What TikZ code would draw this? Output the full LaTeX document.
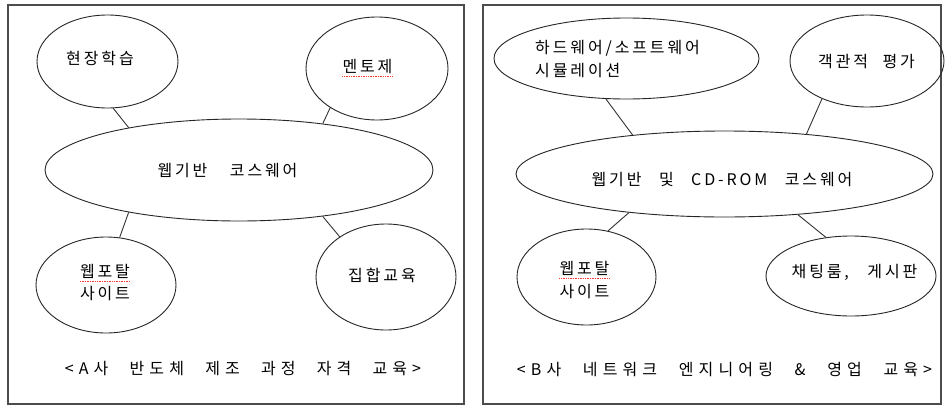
\documentclass[tikz,border=0pt]{standalone}
\usepackage{fontspec}
\setmainfont{Noto Sans CJK KR}
\newfontfamily\krA[LetterSpace=18]{Noto Sans CJK KR}
\newfontfamily\krC[LetterSpace=32]{Noto Sans CJK KR}
\newcommand\wgap[1]{\hspace{#1}}
\usetikzlibrary{shapes.geometric}
\tikzset{
  bub/.style={draw=black!85, line width=0.9pt, ellipse, inner sep=0pt},
  lbl/.style={font=\krA\fontsize{16}{20}\selectfont, inner sep=0pt, text=black},
  captxt/.style={font=\krC\fontsize{16}{20}\selectfont, inner sep=0pt, text=black},
  panel/.style={draw=black!70, line width=1.4pt},
  link/.style={draw=black!80, line width=0.9pt},
  spell/.style={draw=red!80, line width=0.7pt, densely dotted}
}
\begin{document}
\begin{tikzpicture}[x=1pt,y=-1pt]
\useasboundingbox (0,0) rectangle (946,407);
\fill[white] (0,0) rectangle (946,407);
% panels
\draw[panel] (8,5) rectangle (464,404);
\draw[panel] (483,5) rectangle (941,404);

% ---------- left panel ----------
\node[bub, minimum width=141pt, minimum height=93pt] (hj) at (107.5,61.5) {};
\node[bub, minimum width=142pt, minimum height=103pt] (mt) at (377,68.5) {};
\node[bub, minimum width=388pt, minimum height=102pt] (wa) at (239,170) {};
\node[bub, minimum width=140pt, minimum height=96pt] (wpA) at (106,285) {};
\node[bub, minimum width=140pt, minimum height=106pt] (jh) at (386,277) {};

\node[lbl] (thj) at (100,58.5) {현장학습};
\node[lbl] (tmt) at (367.5,66.5) {멘토제};
\node[lbl] (twa) at (227.5,170.5) {웹기반\wgap{16pt} 코스웨어};
\node[lbl] (twpA1) at (105,271.5) {웹포탈};
\node[lbl] (twpA2) at (105,293.5) {사이트};
\node[lbl] (tjh) at (382,275) {집합교육};
\node[captxt] (capA) at (243,369) {<A사\wgap{12.5pt} 반도체\wgap{12.5pt} 제조\wgap{12.5pt} 과정\wgap{12.5pt} 자격\wgap{12.5pt} 교육>};

\draw[spell] ([yshift=-2pt]tmt.south west) -- ([yshift=-2pt]tmt.south east);
\draw[spell] ([yshift=-2pt]twpA1.south west) -- ([yshift=-2pt]twpA1.south east);

\draw[link] (hj.-83.5) -- (wa.159.6);
\draw[link] (mt.220.6) -- (wa.29.8);
\draw[link] (wpA.74.8) -- (wa.201.5);
\draw[link] (jh.139.4) -- (wa.-29.5);

% ---------- right panel ----------
\node[bub, minimum width=265pt, minimum height=81pt] (hw) at (626.5,58.5) {};
\node[bub, minimum width=154pt, minimum height=92pt] (gg) at (867,61) {};
\node[bub, minimum width=417pt, minimum height=86pt] (wb) at (724.5,174) {};
\node[bub, minimum width=139pt, minimum height=96pt] (wpB) at (586.5,277) {};
\node[bub, minimum width=170pt, minimum height=80pt] (ch) at (851,276) {};

\node[lbl, anchor=west] (thw1) at (535,48.5) {하드웨어/소프트웨어};
\node[lbl, anchor=west] (thw2) at (535,70.5) {시뮬레이션};
\node[lbl] (tgg) at (866.5,61.5) {객관적\wgap{8pt} 평가};
\node[lbl] (twb) at (722,180) {웹기반\wgap{11pt} 및\wgap{11pt} CD-ROM\wgap{11pt} 코스웨어};
\node[lbl] (twpB1) at (584.5,268.5) {웹포탈};
\node[lbl] (twpB2) at (584.5,291.5) {사이트};
\node[lbl] (tch) at (854.5,272.5) {채팅룸,\wgap{12pt} 게시판};
\node[captxt] (capB) at (724.5,370) {<B사\wgap{13pt} 네트워크\wgap{13pt} 엔지니어링\wgap{13pt} \&\wgap{13pt} 영업\wgap{13pt} 교육>};

\draw[spell] ([yshift=-2pt]twpB1.south west) -- ([yshift=-2pt]twpB1.south east);

\draw[link] (hw.243.7) -- (wb.157.8);
\draw[link] (gg.220.3) -- (wb.26.4);
\draw[link] (wpB.65) -- (wb.202.6);
\draw[link] (ch.123) -- (wb.-29.8);
\end{tikzpicture}
\end{document}
